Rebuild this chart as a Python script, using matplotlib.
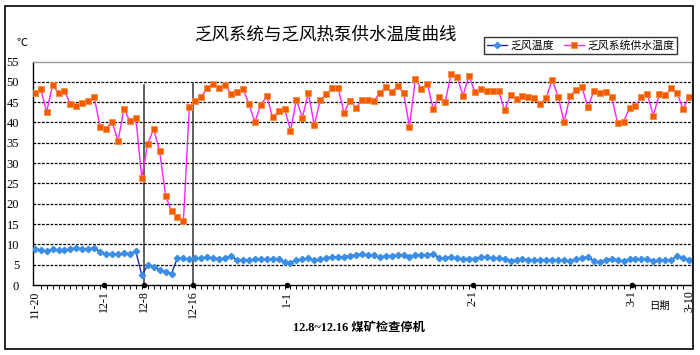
import numpy as np
import matplotlib
matplotlib.use("Agg")
import matplotlib.pyplot as plt
from matplotlib.lines import Line2D
from matplotlib.patches import Rectangle

# ---------------- data ----------------
supply_temp = [47.3, 48.3, 42.6, 49.2, 47.2, 47.8, 44.5, 44.1, 44.7, 45.2,
               46.2, 38.9, 38.5, 40.2, 35.4, 43.3, 40.4, 41.1, 26.4, 34.8,
               38.4, 32.9, 22.0, 18.1, 16.8, 15.8, 43.9, 45.4, 46.3, 48.5,
               49.4, 48.4, 49.2, 47.0, 47.6, 48.3, 44.6, 40.1, 44.3, 46.4,
               41.3, 42.8, 43.4, 38.0, 45.6, 41.2, 47.3, 39.3, 45.5, 46.9,
               48.5, 48.5, 42.4, 45.4, 43.6, 45.5, 45.5, 45.3, 47.2, 48.8,
               47.4, 49.0, 47.3, 39.0, 50.7, 48.3, 49.5, 43.3, 46.3, 45.0,
               51.9, 51.3, 46.6, 51.5, 47.5, 48.2, 47.8, 47.7, 47.7, 43.0,
               46.7, 45.7, 46.6, 46.3, 46.1, 44.6, 46.1, 50.5, 46.3, 40.1,
               46.5, 48.1, 48.7, 43.7, 47.8, 47.3, 47.6, 46.3, 39.8, 40.2,
               43.6, 44.0, 46.3, 46.9, 41.7, 46.9, 46.7, 48.4, 47.3, 43.2,
               46.3]
exhaust_temp = [8.9, 8.7, 8.4, 8.8, 8.5, 8.6, 8.9, 9.1, 8.9, 8.9,
                9.1, 8.1, 7.6, 7.6, 7.6, 7.8, 7.7, 8.3, 2.4, 4.9,
                4.4, 3.8, 3.3, 2.8, 6.7, 6.6, 6.3, 6.6, 6.6, 6.8,
                6.6, 6.3, 6.7, 7.2, 6.1, 6.1, 6.1, 6.3, 6.3, 6.3,
                6.4, 6.4, 5.6, 5.5, 6.2, 6.3, 6.6, 6.2, 6.3, 6.7,
                6.9, 6.9, 7.0, 7.2, 7.4, 7.7, 7.4, 7.3, 6.8, 7.2,
                7.2, 7.4, 7.5, 7.0, 7.4, 7.4, 7.4, 7.7, 6.7, 6.7,
                6.9, 6.6, 6.5, 6.5, 6.5, 6.9, 6.8, 6.6, 6.6, 6.5,
                6.0, 6.2, 6.3, 6.2, 6.2, 6.2, 6.1, 6.2, 6.1, 6.1,
                5.9, 6.3, 6.6, 7.0, 5.9, 5.7, 6.2, 6.5, 6.1, 5.9,
                6.4, 6.3, 6.3, 6.3, 6.0, 6.1, 6.1, 6.2, 7.1, 6.7,
                6.1]
date_labels = ["11-20", "12-1", "12-8", "12-16", "1-1", "2-1", "3-1", "3-10"]
date_pos = [0, 11.6, 18.4, 26.6, 42.4, 73.6, 100.4, 110]
dot_labels = ["12-1", "12-8", "12-16", "1-1", "2-1", "3-1"]
stop_marks = ["12-8", "12-16"]
stop_tops = [49.2, 49.8]

series_names = ["乏风温度", "乏风系统供水温度"]
title = "乏风系统与乏风热泵供水温度曲线"
note = "12.8~12.16 煤矿检查停机"

# ---------------- figure ----------------
W, H = 700, 355
fig = plt.figure(figsize=(W / 100, H / 100), dpi=100)
fig.patch.set_facecolor("white")

L, R, T, B = 33, 692, 61.5, 285
ax = fig.add_axes([L / W, 1 - B / H, (R - L) / W, (B - T) / H])

cjk = ["Noto Sans CJK SC", "DejaVu Sans"]
serif = ["Liberation Serif", "Noto Sans CJK SC"]

x = np.arange(len(supply_temp))

# gridlines
for v in range(5, 55, 5):
    ax.axhline(v, color="black", lw=0.9, ls=(0, (2.2, 1.2)), zorder=1)

blue_style = dict(color="#1c2a9c", lw=1.0, marker="D", ms=3.2,
                  mfc="#3a8ee6", mec="#3a8ee6")
orange_style = dict(color="#ff22ff", lw=1.0, marker="s", ms=4.6,
                    mfc="#f25c00", mec="#ff8a3c", mew=0.6)

ax.plot(x, exhaust_temp, zorder=4, **blue_style)
ax.plot(x, supply_temp, zorder=5, **orange_style)

# stop markers
for lab, top in zip(stop_marks, stop_tops):
    p = date_pos[date_labels.index(lab)]
    ax.plot([p, p], [0, top], color="#333333", lw=1.1, zorder=3)

dp = [date_pos[date_labels.index(l)] for l in dot_labels]
ax.plot(dp, [0] * len(dp), "o", color="black", ms=3, clip_on=False, zorder=6)

ax.set_xlim(-0.29, 110.5)
ax.set_ylim(0, 55)
ax.set_yticks(range(0, 56, 5))
ax.set_yticklabels([str(v) for v in range(0, 56, 5)], family=serif, fontsize=9)
ax.tick_params(axis="y", length=0, pad=10)

ax.set_xticks(x, minor=True)
ax.set_xticks(date_pos)
ax.set_xticklabels(date_labels, rotation=90, family=serif, fontsize=8.6,
                   va="top", ha="center")
ax.tick_params(axis="x", which="major", length=0, pad=4)
ax.tick_params(axis="x", which="minor", length=3, width=0.7, direction="out")

for s in ["top", "right"]:
    ax.spines[s].set_color("#999999")
    ax.spines[s].set_linewidth(1.0)
for s in ["left", "bottom"]:
    ax.spines[s].set_color("black")
    ax.spines[s].set_linewidth(1.0)

# title and texts
fig.text(325 / W, 1 - 35 / H, title, family=cjk, fontsize=12.6,
         ha="center", va="center")
fig.text(22 / W, 1 - 43 / H, "℃", family=cjk, fontsize=8,
         ha="center", va="center")
fig.text(660 / W, 1 - 306 / H, "日期", family=cjk, fontsize=7.5,
         ha="center", va="center")
fig.text(293 / W, 1 - 328 / H, note, family=serif, fontsize=8.8,
         fontweight="bold", ha="left", va="center")

# legend
handles = [Line2D([], [], **blue_style), Line2D([], [], **orange_style)]
leg = fig.legend(handles, series_names, loc="upper left",
                 bbox_to_anchor=(484 / W, 1 - 36.5 / H), ncol=2,
                 prop={"family": cjk, "size": 7.8}, frameon=True,
                 fancybox=False, edgecolor="black", handlelength=1.8,
                 handletextpad=0.3, columnspacing=1.0, borderpad=0.3,
                 borderaxespad=0)
leg.get_frame().set_linewidth(1.0)

# outer frame
fig.add_artist(Rectangle((4.5 / W, 1 - 348.5 / H), (693 - 4.5) / W,
                         (348.5 - 5.5) / H, transform=fig.transFigure,
                         fill=False, edgecolor="black", lw=1.2))

fig.savefig("out.png", dpi=100)
